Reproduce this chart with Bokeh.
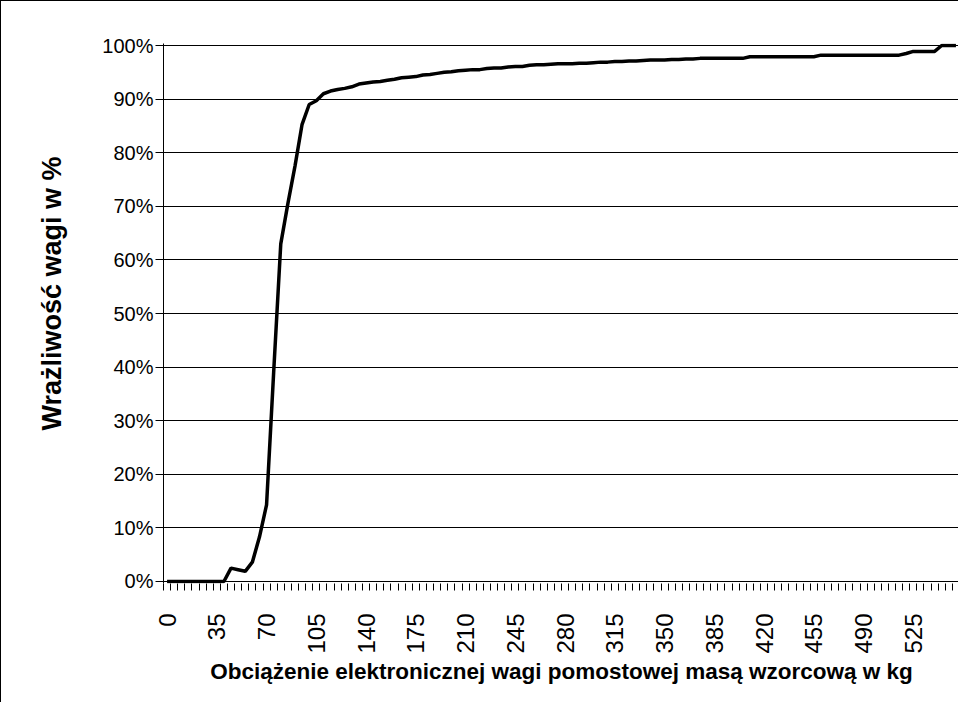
import math
from bokeh.plotting import figure
from bokeh.models import FixedTicker, PrintfTickFormatter, Range1d, Title
from bokeh.embed import file_html
from bokeh.resources import INLINE

# categories: load in kg (every 5 kg)
kg = list(range(0, 560, 5))

# sensitivity in %
sens = [
    0, 0, 0, 0, 0, 0, 0, 0, 0,
    2.5, 2.2, 1.9, 3.6, 8.3, 14.3, 39.0, 63.0,
    70.5, 77.5, 85.3, 89.0, 89.7, 91.0, 91.5, 91.8, 92.0, 92.3,
    92.8, 93.0, 93.2, 93.3, 93.5, 93.7, 94.0, 94.1, 94.2, 94.5,
    94.6, 94.8, 95.0, 95.1, 95.3, 95.4, 95.5, 95.5, 95.7, 95.8,
    95.8, 96.0, 96.1, 96.1, 96.3, 96.4, 96.4, 96.5, 96.6, 96.6,
    96.6, 96.7, 96.7, 96.8, 96.9, 96.9, 97.0, 97.0, 97.1, 97.1,
    97.2, 97.3, 97.3, 97.3, 97.4, 97.4, 97.5, 97.5, 97.6, 97.6,
    97.6, 97.6, 97.6, 97.6, 97.6, 97.9, 97.9, 97.9, 97.9, 97.9,
    97.9, 97.9, 97.9, 97.9, 97.9, 98.2, 98.2, 98.2, 98.2, 98.2,
    98.2, 98.2, 98.2, 98.2, 98.2, 98.2, 98.2, 98.5, 98.9, 98.9,
    98.9, 98.9, 100, 100, 100,
]

x_labels = list(range(0, 526, 35))
y_ticks = list(range(0, 101, 10))

FONT = "Liberation Sans"

p = figure(
    width=958, height=702,
    x_range=Range1d(-2.5, 557.5), y_range=Range1d(-0.375, 100.375),
    output_backend="svg", toolbar_location=None,
    min_border_left=160, min_border_right=0, min_border_top=42, min_border_bottom=120,
)
p.styles = {"border-left": "1px solid black", "border-top": "1px solid black"}
p.outline_line_color = None
p.background_fill_color = "white"
p.border_fill_color = "white"

p.line(kg, sens, line_color="black", line_width=3.5)

# x axis
xa = p.xaxis[0]
xa.ticker = FixedTicker(ticks=x_labels, minor_ticks=[k - 2.5 for k in kg] + [kg[-1] + 2.5])
xa.axis_line_color = None
xa.major_tick_line_color = None
xa.major_tick_out = 0
xa.major_tick_in = 0
xa.minor_tick_line_color = "black"
xa.minor_tick_out = 7
xa.minor_tick_in = 0
xa.major_label_orientation = math.pi / 2
xa.major_label_standoff = 23
xa.major_label_text_font = FONT
xa.major_label_text_font_size = "24px"
xa.major_label_text_color = "black"
xa.axis_label = "Obciążenie elektronicznej wagi pomostowej masą wzorcową w kg"
xa.axis_label_text_font = FONT
xa.axis_label_text_font_style = "bold"
xa.axis_label_text_font_size = "22.5px"
xa.axis_label_text_color = "black"
xa.axis_label_standoff = 2

# y axis
ya = p.yaxis[0]
ya.ticker = FixedTicker(ticks=y_ticks)
ya.formatter = PrintfTickFormatter(format="%d%%")
ya.axis_line_color = "black"
ya.major_tick_line_color = "black"
ya.major_tick_out = 8
ya.major_tick_in = 0
ya.minor_tick_line_color = None
ya.major_label_standoff = 2
ya.major_label_text_font = FONT
ya.major_label_text_font_size = "20px"
ya.major_label_text_color = "black"

# y axis title as a side title, so it can sit slightly above the frame centre
ytitle = Title(
    text="Wrażliwość wagi w %", align="left", offset=153, standoff=66,
    text_font=FONT, text_font_style="bold", text_font_size="27px",
    text_color="black",
)
p.add_layout(ytitle, "left")

p.xgrid.visible = False
p.ygrid.ticker = FixedTicker(ticks=y_ticks)
p.ygrid.grid_line_color = "black"
p.ygrid.grid_line_width = 1

open("out.html", "w").write(file_html(p, INLINE))
